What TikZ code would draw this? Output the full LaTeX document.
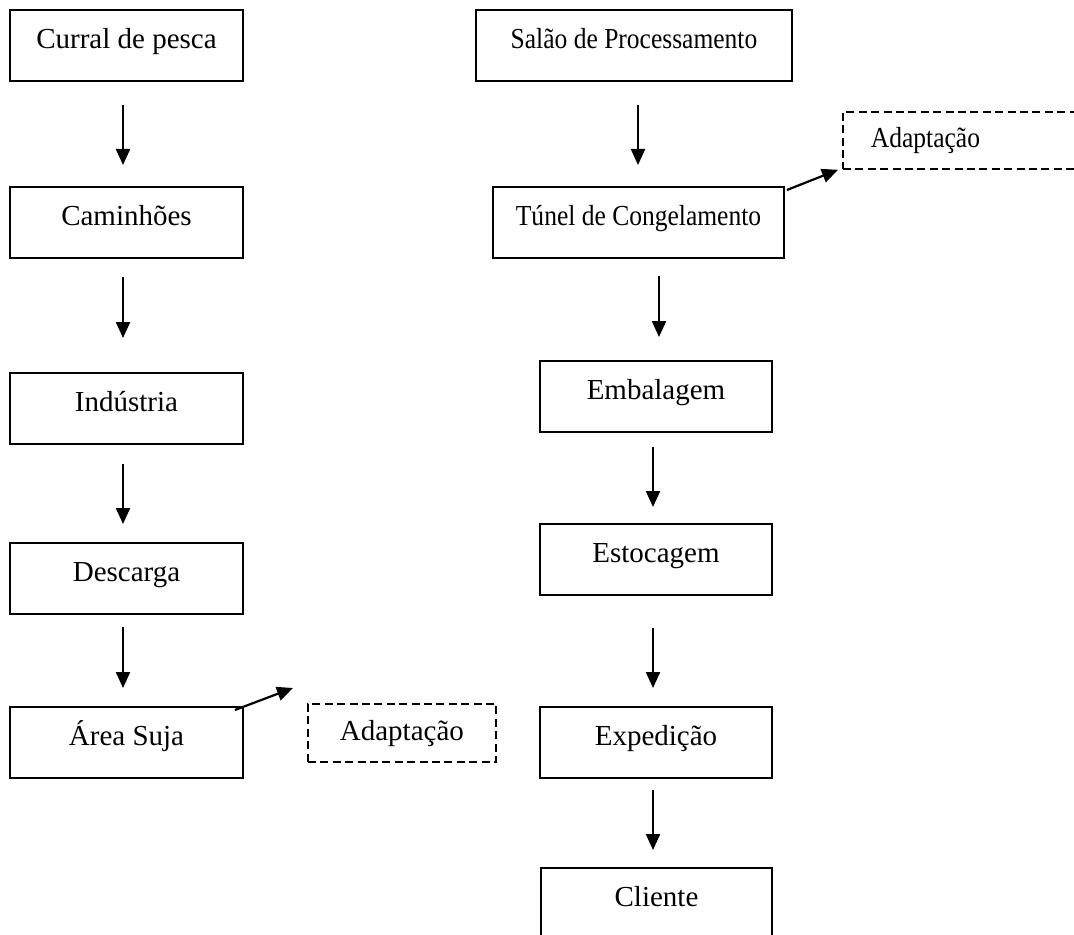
\documentclass[tikz,border=0pt]{standalone}
\usepackage{fontspec}
\usepackage{graphicx}
\setmainfont{Liberation Serif}
\usetikzlibrary{arrows.meta}

% narrower setting for the long labels
\newcommand{\narrowtext}[1]{\scalebox{0.88}[1]{#1}}

\tikzset{
  stage/.style={draw, line width=0.9pt, rectangle, anchor=north,
    inner xsep=0pt, inner ysep=0pt, text height=19.5pt, text depth=16pt,
    font=\fontsize{14.5pt}{17pt}\selectfont},
  adapt/.style={draw, line width=0.9pt, dash pattern=on 4pt off 2.2pt,
    rectangle, anchor=north west, inner ysep=0pt,
    font=\fontsize{14.5pt}{17pt}\selectfont},
  flow/.style={line width=1.1pt, -{Triangle[width=7pt,length=8pt]}}
}

\begin{document}
\begin{tikzpicture}[x=0.5pt, y=-0.5pt]
  \clip (0,0) rectangle (1074,935);
  \fill[white] (0,0) rectangle (1074,935);

  % left column
  \node[stage, minimum width=116.5pt] (cur) at (126.5,9)   {Curral de pesca};
  \node[stage, minimum width=116.5pt] (cam) at (126.5,186) {Caminhões};
  \node[stage, minimum width=116.5pt] (ind) at (126.5,372) {Indústria};
  \node[stage, minimum width=116.5pt] (des) at (126.5,542) {Descarga};
  \node[stage, minimum width=116.5pt] (are) at (126.5,706) {Área Suja};
  \node[adapt, minimum width=94pt, text height=18.5pt, text depth=10.5pt,
        inner xsep=0pt] (adb) at (307,703) {Adaptação};

  % right column
  \node[stage, minimum width=158pt]   (sal) at (634,9)     {\narrowtext{Salão de Processamento}};
  \node[stage, minimum width=145.5pt] (tun) at (638.5,186) {\narrowtext{Túnel de Congelamento}};
  \node[adapt, text width=97pt, align=left, inner xsep=14pt,
        text height=18pt, text depth=10.5pt] (adt) at (842,111) {\narrowtext{Adaptação}};
  \node[stage, minimum width=116pt]   (emb) at (656,360)   {Embalagem};
  \node[stage, minimum width=116pt]   (est) at (656,523)   {Estocagem};
  \node[stage, minimum width=116pt]   (exp) at (656,706)   {Expedição};
  \node[stage, minimum width=115.5pt] (cli) at (656.5,867) {Cliente};

  % left column flow
  \draw[flow, shorten <=11.5pt, shorten >=10.5pt]
    ([xshift=-1.75pt]cur.south) -- ([xshift=-1.75pt]cam.north);
  \draw[flow, shorten <=9pt, shorten >=17pt]
    ([xshift=-1.75pt]cam.south) -- ([xshift=-1.75pt]ind.north);
  \draw[flow, shorten <=9.5pt, shorten >=9pt]
    ([xshift=-1.75pt]ind.south) -- ([xshift=-1.75pt]des.north);
  \draw[flow, shorten <=6pt, shorten >=9pt]
    ([xshift=-1.75pt]des.south) -- ([xshift=-1.75pt]are.north);
  \draw[flow]
    ([xshift=-4.5pt, yshift=-2pt]are.north east) -- ([xshift=-7pt, yshift=7.5pt]adb.north west);

  % right column flow
  \draw[flow, shorten <=11.5pt, shorten >=10.5pt]
    ([xshift=2pt]sal.south) -- ([xshift=-0.25pt]tun.north);
  \draw[flow]
    ([xshift=1pt, yshift=-2pt]tun.north east) -- ([xshift=-2pt]adt.south west);
  \draw[flow, shorten <=8.5pt, shorten >=11.5pt]
    ([xshift=10.25pt]tun.south) -- ([xshift=1.5pt]emb.north);
  \draw[flow, shorten <=7pt, shorten >=8pt]
    ([xshift=-1.5pt]emb.south) -- ([xshift=-1.5pt]est.north);
  \draw[flow, shorten <=16pt, shorten >=9pt]
    ([xshift=-1.5pt]est.south) -- ([xshift=-1.5pt]exp.north);
  \draw[flow, shorten <=5.5pt, shorten >=8.5pt]
    ([xshift=-1.5pt]exp.south) -- ([xshift=-1.75pt]cli.north);
\end{tikzpicture}
\end{document}
